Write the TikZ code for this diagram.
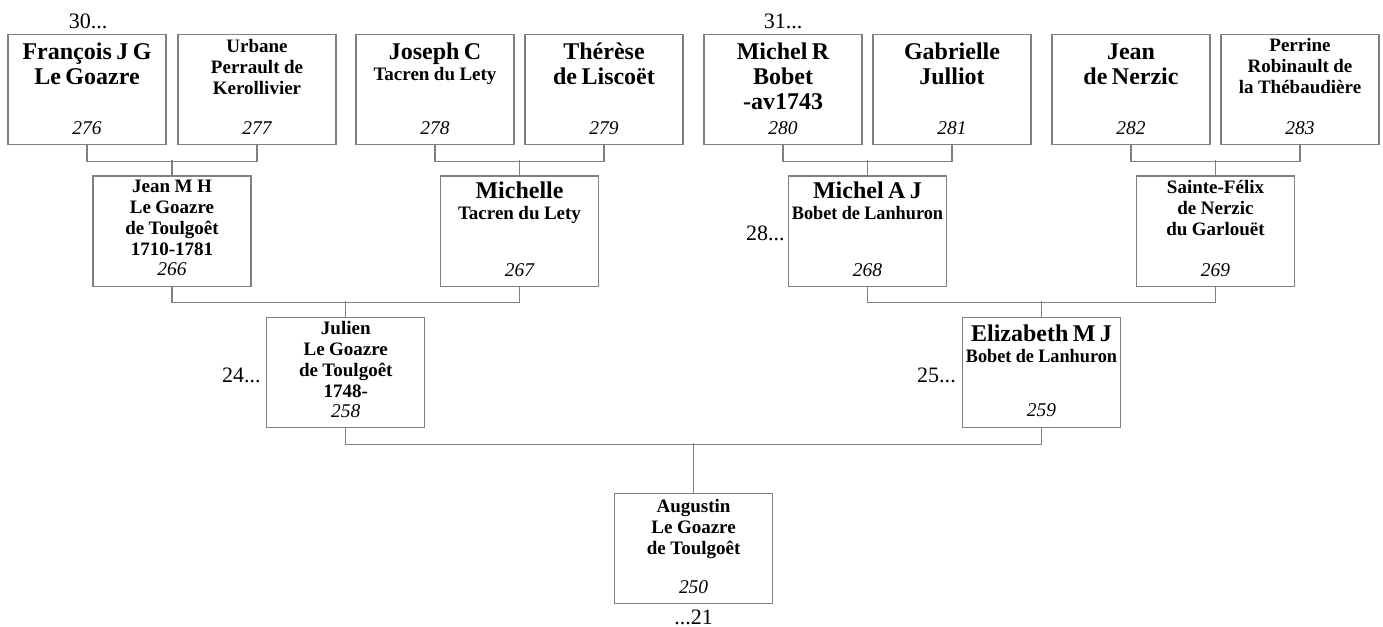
\documentclass[tikz,border=0pt]{standalone}
\usepackage{fontspec}
\usepackage{graphicx}
\setmainfont{Liberation Serif}
\definecolor{linegray}{RGB}{128,128,128}
\newcommand\BigLine[1]{{\fontsize{18pt}{18.75pt}\selectfont\bfseries #1\par}}
\newcommand\SmallLine[1]{{\fontsize{14.25pt}{15.75pt}\selectfont\bfseries #1\par}}
\tikzset{
  pbox/.style={draw=linegray, line width=0.8pt, minimum width=118.5pt, minimum height=82.5pt, inner sep=0pt, anchor=north},
  ptext/.style={anchor=base, text width=130pt, align=center, inner sep=0pt},
  pnum/.style={anchor=base, inner sep=0pt, font=\fontsize{14.6pt}{16pt}\selectfont\itshape},
  gen/.style={anchor=base, inner sep=0pt, font=\fontsize{16.5pt}{18pt}\selectfont},
  conn/.style={draw=linegray, line width=0.8pt}
}
\begin{document}
\begin{tikzpicture}[x=0.75pt, y=-0.75pt]
\useasboundingbox (0,0) rectangle (1383,627);
% ---------- row 1 (top 34)
\node[pbox] (b276) at (87,34) {};
\node[pbox] (b277) at (257,34) {};
\node[pbox] (b278) at (435,34) {};
\node[pbox] (b279) at (604,34) {};
\node[pbox] (b280) at (783,34) {};
\node[pbox] (b281) at (952,34) {};
\node[pbox] (b282) at (1131,34) {};
\node[pbox] (b283) at (1300,34) {};
\node[ptext] (t276) at (87,60) {\BigLine{François J G}\BigLine{Le Goazre}};
\node[ptext] (t277) at (257,52.5) {\SmallLine{Urbane}\SmallLine{Perrault de}\SmallLine{Kerollivier}};
\node[ptext] (t278) at (435,60) {\BigLine{Joseph C}\SmallLine{Tacren du Lety}};
\node[ptext] (t279) at (604,60) {\BigLine{Thérèse}\BigLine{de Liscoët}};
\node[ptext] (t280) at (783,60) {\BigLine{Michel R}\BigLine{Bobet}\BigLine{-av1743}};
\node[ptext] (t281) at (952,60) {\BigLine{Gabrielle}\BigLine{Julliot}};
\node[ptext] (t282) at (1131,60) {\BigLine{Jean}\BigLine{de Nerzic}};
\node[ptext] (t283) at (1300,52) {\SmallLine{Perrine}\SmallLine{Robinault de}\SmallLine{la Thébaudière}};
\node[pnum] (n276) at (87,134.5) {276};
\node[pnum] (n277) at (257,134.5) {277};
\node[pnum] (n278) at (435,134.5) {278};
\node[pnum] (n279) at (604,134.5) {279};
\node[pnum] (n280) at (783,134.5) {280};
\node[pnum] (n281) at (952,134.5) {281};
\node[pnum] (n282) at (1131,134.5) {282};
\node[pnum] (n283) at (1300,134.5) {283};
% ---------- row 2 (top 175.5)
\node[pbox] (b266) at (172,175.5) {};
\node[pbox] (b267) at (519.5,175.5) {};
\node[pbox] (b268) at (867.5,175.5) {};
\node[pbox] (b269) at (1215.5,175.5) {};
\node[ptext] (t266) at (172,193) {\SmallLine{Jean M H}\SmallLine{Le Goazre}\SmallLine{de Toulgoêt}\SmallLine{1710-1781}};
\node[ptext] (t267) at (519.5,199) {\BigLine{Michelle}\SmallLine{Tacren du Lety}};
\node[ptext] (t268) at (867.5,199) {\BigLine{Michel A J}\SmallLine{\scalebox{0.96}[1]{Bobet de Lanhuron}}};
\node[ptext] (t269) at (1215.5,193.5) {\SmallLine{Sainte-Félix}\SmallLine{de Nerzic}\SmallLine{du Garlouët}};
\node[pnum] (n266) at (172,275) {266};
\node[pnum] (n267) at (519.5,276) {267};
\node[pnum] (n268) at (867.5,276) {268};
\node[pnum] (n269) at (1215.5,276) {269};
% ---------- row 3 (top 317)
\node[pbox] (b258) at (345.75,317) {};
\node[pbox] (b259) at (1041.5,317) {};
\node[ptext] (t258) at (345.75,334.5) {\SmallLine{Julien}\SmallLine{Le Goazre}\SmallLine{de Toulgoêt}\SmallLine{1748-}};
\node[ptext] (t259) at (1041.5,341.5) {\BigLine{Elizabeth M J}\SmallLine{\scalebox{0.96}[1]{Bobet de Lanhuron}}};
\node[pnum] (n258) at (345.75,417) {258};
\node[pnum] (n259) at (1041.5,416.5) {259};
% ---------- row 4 (top 493)
\node[pbox] (b250) at (693.6,493) {};
\node[ptext] (t250) at (693.6,512) {\SmallLine{Augustin}\SmallLine{Le Goazre}\SmallLine{de Toulgoêt}};
\node[pnum] (n250) at (693.6,593) {250};
% ---------- generation labels
\node[gen] (g30) at (88,29) {30...};
\node[gen] (g31) at (783,29) {31...};
\node[gen, anchor=base east] (g28) at (785,240) {28...};
\node[gen, anchor=base east] (g24) at (261,382) {24...};
\node[gen, anchor=base east] (g25) at (956,382) {25...};
\node[gen] (g21) at (693.6,624) {...21};
% ---------- connectors
\draw[conn] (b276.south) -- ++(0,16) -| (b277.south);
\draw[conn] (b278.south) -- ++(0,16) -| (b279.south);
\draw[conn] (b280.south) -- ++(0,16) -| (b281.south);
\draw[conn] (b282.south) -- ++(0,16) -| (b283.south);
\draw[conn] (b266.north) -- ++(0,-15.5);
\draw[conn] (b267.north) -- ++(0,-15.5);
\draw[conn] (b268.north) -- ++(0,-15.5);
\draw[conn] (b269.north) -- ++(0,-15.5);
\draw[conn] (b266.south) -- ++(0,15.5) -| (b267.south);
\draw[conn] (b268.south) -- ++(0,15.5) -| (b269.south);
\draw[conn] (b258.north) -- ++(0,-16);
\draw[conn] (b259.north) -- ++(0,-16);
\draw[conn] (b258.south) -- ++(0,16) -| (b259.south);
\draw[conn] (b250.north) -- ++(0,-50);
\end{tikzpicture}
\end{document}
